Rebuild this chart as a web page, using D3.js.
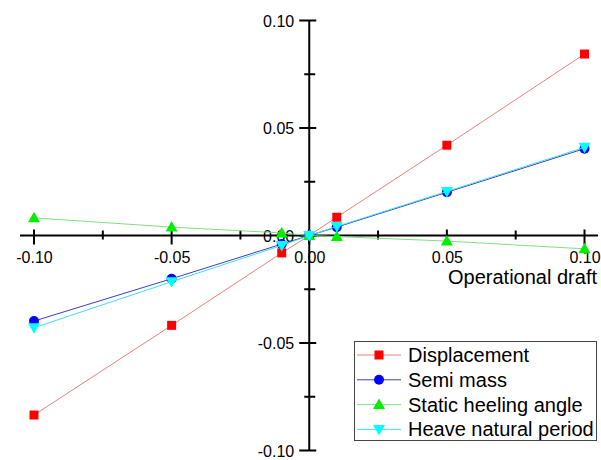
<!DOCTYPE html>
<html>
<head>
<meta charset="utf-8">
<script src="https://cdn.jsdelivr.net/npm/d3@7"></script>
<style>
  html, body { margin: 0; padding: 0; background: #fff; }
  svg { display: block; font-family: "Liberation Sans", Arial, sans-serif; }
</style>
</head>
<body>
<svg id="chart" width="601" height="460"></svg>
<script>
const xValues = [-0.10, -0.05, -0.01, 0.00, 0.01, 0.05, 0.10];
const displacement = [-0.0835, -0.0418, -0.0081, 0.0, 0.0085, 0.0420, 0.0844];
const semiMass = [-0.0398, -0.0201, -0.0040, 0.0, 0.0039, 0.0201, 0.0404];
const staticHeel = [0.0082, 0.0039, 0.0012, 0.0, -0.0005, -0.0026, -0.0062];
const heavePeriod = [-0.0429, -0.0215, -0.0046, 0.0, 0.0042, 0.0205, 0.0410];
const xTicks = [-0.10, -0.05, 0.00, 0.05, 0.10];
const yTicks = [-0.10, -0.05, 0.00, 0.05, 0.10];
const xMinor = [-0.075, -0.025, 0.025, 0.075];
const yMinor = [-0.075, -0.025, 0.025, 0.075];
const seriesNames = ["Displacement", "Semi mass", "Static heeling angle", "Heave natural period"];
const xTitle = "Operational draft";

const svg = d3.select("#chart");
const x = d3.scaleLinear().domain([-0.1, 0.1]).range([34, 584.5]);
const y = d3.scaleLinear().domain([-0.1, 0.1]).range([450.5, 20.5]);
const fmt = v => d3.format(".2f")(v).replace("\u2212", "-");

const series = [
  {name: seriesNames[0], values: displacement, color: "#ff0000", line: "#e98080", shape: "square"},
  {name: seriesNames[1], values: semiMass, color: "#0000ff", line: "#3d3dc0", shape: "circle"},
  {name: seriesNames[2], values: staticHeel, color: "#00ee00", line: "#80e080", shape: "up"},
  {name: seriesNames[3], values: heavePeriod, color: "#00ffff", line: "#40dfef", shape: "down"}
];

const axG = svg.append("g");
const xAxis = d3.axisBottom(x).tickValues(xTicks).tickFormat(fmt).tickSize(0).tickPadding(0);
const gx = axG.append("g").attr("transform", `translate(0,${y(0)})`).call(xAxis);
gx.select(".domain").remove();
gx.selectAll(".tick text").attr("font-size", 16).attr("fill", "#000")
  .attr("font-family", "Liberation Sans, Arial, sans-serif").attr("dy", null).attr("y", 27);
const yAxis = d3.axisLeft(y).tickValues(yTicks).tickFormat(fmt).tickSize(0).tickPadding(0);
const gy = axG.append("g").attr("transform", `translate(${x(0)},0)`).call(yAxis);
gy.select(".domain").remove();
gy.selectAll(".tick text").attr("font-size", 16).attr("fill", "#000")
  .attr("font-family", "Liberation Sans, Arial, sans-serif").attr("x", -15).attr("dy", "0.35em");

const lines = svg.append("g").attr("stroke", "#000").attr("stroke-width", 2);
lines.append("line").attr("x1", 20).attr("x2", 598).attr("y1", y(0)).attr("y2", y(0));
lines.append("line").attr("x1", x(0)).attr("x2", x(0)).attr("y1", y(0.1)).attr("y2", y(-0.1));
xTicks.forEach(v => lines.append("line").attr("x1", x(v)).attr("x2", x(v)).attr("y1", y(0) - 6).attr("y2", y(0) + 9));
xMinor.forEach(v => lines.append("line").attr("x1", x(v)).attr("x2", x(v)).attr("y1", y(0) - 5).attr("y2", y(0) + 4));
yTicks.forEach(v => lines.append("line").attr("y1", y(v)).attr("y2", y(v)).attr("x1", x(0) - 10).attr("x2", x(0) + 7));
yMinor.forEach(v => lines.append("line").attr("y1", y(v)).attr("y2", y(v)).attr("x1", x(0) - 5).attr("x2", x(0) + 6));

svg.append("text").attr("x", 597).attr("y", 284).attr("text-anchor", "end")
  .attr("font-size", 20).attr("fill", "#000").text(xTitle);

function drawMarker(g, shape, cx, cy, color) {
  if (shape === "square") {
    g.append("rect").attr("x", cx - 4.5).attr("y", cy - 4.5).attr("width", 9).attr("height", 9).attr("fill", color);
  } else if (shape === "circle") {
    g.append("circle").attr("cx", cx).attr("cy", cy).attr("r", 5).attr("fill", color);
  } else if (shape === "up") {
    g.append("path").attr("d", `M${cx},${cy - 6}L${cx + 6},${cy + 4.5}L${cx - 6},${cy + 4.5}Z`).attr("fill", color);
  } else {
    g.append("path").attr("d", `M${cx},${cy + 6}L${cx + 6},${cy - 4.5}L${cx - 6},${cy - 4.5}Z`).attr("fill", color);
  }
}

const lineGen = d3.line().x(d => x(d[0])).y(d => y(d[1]));
series.forEach(s => {
  const g = svg.append("g");
  const pts = xValues.map((v, i) => [v, s.values[i]]);
  g.append("path").attr("d", lineGen(pts)).attr("fill", "none").attr("stroke", s.line).attr("stroke-width", 1);
  pts.forEach(p => drawMarker(g, s.shape, x(p[0]), y(p[1]), s.color));
});

const lg = svg.append("g");
lg.append("rect").attr("x", 354.5).attr("y", 341.5).attr("width", 242).attr("height", 99)
  .attr("fill", "#fff").attr("stroke", "#444").attr("stroke-width", 1);
series.forEach((s, i) => {
  const cy = 355 + i * 24.8;
  lg.append("line").attr("x1", 357).attr("x2", 401).attr("y1", cy).attr("y2", cy).attr("stroke", s.line).attr("stroke-width", 1);
  drawMarker(lg, s.shape, 379, cy, s.color);
  lg.append("text").attr("x", 408).attr("y", cy).attr("dy", "0.35em").attr("font-size", 20).attr("fill", "#000").text(s.name);
});
</script>
</body>
</html>
